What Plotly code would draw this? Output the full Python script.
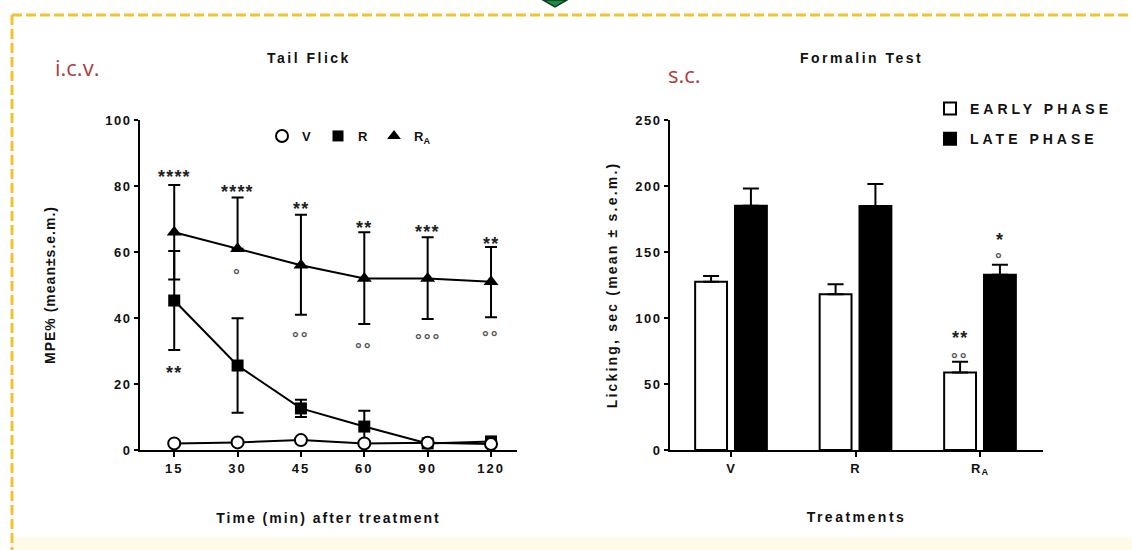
import plotly.graph_objects as go

# ---------------- Tail flick (i.c.v.) ----------------
time_labels = ["15", "30", "45", "60", "90", "120"]
v_mean = [2.0, 2.3, 3.0, 2.0, 2.2, 1.8]
v_sem = [0.5, 0.5, 0.6, 0.4, 0.4, 0.4]
r_mean = [45.3, 25.6, 12.6, 7.1, 2.0, 2.6]
r_sem = [15.0, 14.3, 2.6, 4.8, 0.3, 0.5]
ra_mean = [66.0, 61.0, 56.0, 52.0, 52.0, 51.0]
ra_sem_upper = [14.3, 15.5, 15.3, 14.0, 12.5, 10.5]
ra_sem_lower = [14.3, 0.0, 15.0, 13.8, 12.3, 10.8]

# significance marks (text, y position in MPE% units)
ra_star_text = ["****", "****", "**", "**", "***", "**"]
ra_star_y = [84.3, 79.8, 74.4, 68.8, 67.5, 63.8]
ra_ring_text = ["", "°", "°°", "°°", "°°°", "°°"]
ra_ring_y = [None, 54.5, 35.4, 32.1, 34.6, 35.7]
r_star_text = ["**", "", "", "", "", ""]
r_star_y = [25.0, None, None, None, None, None]

mpe_ticks = [0, 20, 40, 60, 80, 100]

# ---------------- Formalin test (s.c.) ----------------
treatments = ["V", "R", "R<sub>A</sub>"]
early_mean = [127.5, 117.9, 58.8]
early_sem = [4.3, 7.6, 8.1]
late_mean = [185.1, 184.8, 132.8]
late_sem = [13.1, 16.7, 7.6]

early_star_text = ["", "", "**"]
early_star_y = [None, None, 89.0]
early_ring_text = ["", "", "°°"]
early_ring_y = [None, None, 72.5]
late_star_text = ["", "", "*"]
late_star_y = [None, None, 163.0]
late_ring_text = ["", "", "°"]
late_ring_y = [None, None, 148.0]

licking_ticks = [0, 50, 100, 150, 200, 250]

W, H = 1132, 550
FONT = "Liberation Sans, Arial, sans-serif"
BARGAP = 0.36
BARGROUPGAP = 0.2


def spaced(text, px):
    return f'<span style="letter-spacing:{px}px">{text}</span>'


def px_x(p):
    return p / W


def px_y(p):
    return 1 - p / H


fig = go.Figure()

# line traces (drawn R_A first so the vehicle circles sit on top)
fig.add_trace(go.Scatter(
    x=time_labels, y=ra_mean, mode="lines+markers", name="R_A",
    line=dict(color="black", width=2),
    marker=dict(symbol="triangle-up", size=13, color="black"),
    error_y=dict(type="data", symmetric=False, array=ra_sem_upper,
                 arrayminus=ra_sem_lower, color="black", thickness=2, width=6),
    xaxis="x", yaxis="y", showlegend=False))
fig.add_trace(go.Scatter(
    x=time_labels, y=r_mean, mode="lines+markers", name="R",
    line=dict(color="black", width=2),
    marker=dict(symbol="square", size=12, color="black"),
    error_y=dict(type="data", array=r_sem, color="black", thickness=2, width=6),
    xaxis="x", yaxis="y", showlegend=False))
fig.add_trace(go.Scatter(
    x=time_labels, y=v_mean, mode="lines+markers", name="V",
    line=dict(color="black", width=2),
    marker=dict(symbol="circle", size=12, color="white",
                line=dict(color="black", width=2)),
    error_y=dict(type="data", array=v_sem, color="black", thickness=2, width=6),
    xaxis="x", yaxis="y", showlegend=False))

# marker-only legend entries for the line panel
legend_entries = [
    (spaced("V", 2), dict(symbol="circle", size=12, color="white", line=dict(color="black", width=2))),
    (spaced("R", 2), dict(symbol="square", size=11, color="black")),
    ("R<sub>A</sub>", dict(symbol="triangle-up", size=12, color="black")),
]
for rank, (label, mk) in enumerate(legend_entries):
    fig.add_trace(go.Scatter(
        x=[None], y=[None], mode="markers", name=label, marker=mk,
        xaxis="x", yaxis="y", legend="legend", legendrank=rank + 1, showlegend=True))

# bar traces
fig.add_trace(go.Bar(
    x=treatments, y=early_mean, name=spaced("EARLY PHASE", 4),
    marker=dict(color="white", line=dict(color="black", width=2)),
    error_y=dict(type="data", symmetric=False, array=early_sem,
                 arrayminus=[0] * len(early_sem), color="black", thickness=2, width=8),
    xaxis="x2", yaxis="y2", legend="legend2", legendgroup="early"))
fig.add_trace(go.Bar(
    x=treatments, y=late_mean, name=spaced("LATE PHASE", 4),
    marker=dict(color="black", line=dict(color="black", width=2)),
    error_y=dict(type="data", symmetric=False, array=late_sem,
                 arrayminus=[0] * len(late_sem), color="black", thickness=2, width=8),
    xaxis="x2", yaxis="y2", legend="legend2", legendgroup="late"))

tick_font = dict(family=FONT, size=13, color="#111", weight="bold")
title_font = dict(family=FONT, size=14, color="#111", weight="bold")
axis_common = dict(showline=True, linecolor="black", linewidth=2, ticks="outside",
                   tickcolor="black", tickwidth=2, showgrid=False, zeroline=False,
                   tickfont=tick_font, automargin=False, fixedrange=True)

fig.update_layout(
    width=W, height=H,
    margin=dict(l=0, r=0, t=0, b=0),
    paper_bgcolor="white", plot_bgcolor="white",
    bargap=BARGAP, bargroupgap=BARGROUPGAP, barmode="group",
    xaxis=dict(domain=[px_x(140), px_x(517)], anchor="y", type="category",
               categoryorder="array", categoryarray=time_labels,
               range=[-0.54, 5.41], ticklen=5,
               tickvals=time_labels, ticktext=[spaced(t, 2) for t in time_labels],
               title=dict(text=spaced("Time (min) after treatment", 2),
                          font=title_font, standoff=39),
               **axis_common),
    yaxis=dict(domain=[px_y(450), px_y(120)], anchor="x", range=[0, 100],
               ticklen=4, tickvals=mpe_ticks,
               ticktext=[spaced(str(t), 1.5) for t in mpe_ticks],
               title=dict(text=spaced("MPE% (mean±s.e.m.)", 1),
                          font=title_font, standoff=46),
               **axis_common),
    xaxis2=dict(domain=[px_x(670), px_x(1043)], anchor="y2", type="category",
                categoryorder="array", categoryarray=treatments,
                range=[-0.49, 2.506], ticklen=5,
                tickvals=treatments, ticktext=[spaced(t, 1) for t in treatments],
                title=dict(text=spaced("Treatments", 2.5), font=title_font, standoff=36),
                **axis_common),
    yaxis2=dict(domain=[px_y(450), px_y(120)], anchor="x2", range=[0, 250],
                ticklen=4, tickvals=licking_ticks,
                ticktext=[spaced(str(t), 1.5) for t in licking_ticks],
                title=dict(text=spaced("Licking, sec (mean ± s.e.m.)", 2.2),
                           font=title_font, standoff=14),
                **axis_common),
    legend=dict(orientation="h", x=px_x(262), y=px_y(136), xanchor="left",
                yanchor="middle", bgcolor="rgba(0,0,0,0)", entrywidth=11,
                font=dict(family=FONT, size=13, color="#111", weight="bold")),
    legend2=dict(orientation="v", x=px_x(930), y=px_y(93), xanchor="left",
                 yanchor="top", bgcolor="rgba(0,0,0,0)", tracegroupgap=9,
                 font=dict(family=FONT, size=14, color="#111", weight="bold")),
    showlegend=True,
)

annotations = []


def mark(xref, yref, x, y, text, size, color, yshift, spacing):
    annotations.append(dict(
        xref=xref, yref=yref, x=x, y=y, text=spaced(text, spacing), showarrow=False,
        xanchor="center", yanchor="middle", yshift=yshift,
        font=dict(family=FONT, size=size, color=color, weight="bold")))


STAR = dict(size=18, color="#222", yshift=-5, spacing=1.2)
RING = dict(size=17, color="#555", yshift=-5, spacing=2)

# category positions are given by index so numeric-looking labels stay categorical
for i, (t, y) in enumerate(zip(ra_star_text, ra_star_y)):
    if t:
        mark("x", "y", i, y, t, **STAR)
for i, (t, y) in enumerate(zip(ra_ring_text, ra_ring_y)):
    if t:
        mark("x", "y", i, y, t, **RING)
for i, (t, y) in enumerate(zip(r_star_text, r_star_y)):
    if t:
        mark("x", "y", i, y, t, **STAR)

slot = (1 - BARGAP) / 2
for i, (t, y) in enumerate(zip(early_star_text, early_star_y)):
    if t:
        mark("x2", "y2", i - slot / 2, y, t, **STAR)
for i, (t, y) in enumerate(zip(early_ring_text, early_ring_y)):
    if t:
        mark("x2", "y2", i - slot / 2, y, t, **RING)
for i, (t, y) in enumerate(zip(late_star_text, late_star_y)):
    if t:
        mark("x2", "y2", i + slot / 2, y, t, **STAR)
for i, (t, y) in enumerate(zip(late_ring_text, late_ring_y)):
    if t:
        mark("x2", "y2", i + slot / 2, y, t, **RING)

# panel titles and route labels
annotations += [
    dict(xref="paper", yref="paper", x=px_x(309), y=px_y(58), text=spaced("Tail Flick", 2.5),
         showarrow=False, xanchor="center", yanchor="middle",
         font=dict(family=FONT, size=14, color="#111", weight="bold")),
    dict(xref="paper", yref="paper", x=px_x(861), y=px_y(58), text=spaced("Formalin Test", 2.5),
         showarrow=False, xanchor="center", yanchor="middle",
         font=dict(family=FONT, size=14, color="#111", weight="bold")),
    dict(xref="paper", yref="paper", x=px_x(53), y=px_y(67), text="i.c.v.",
         showarrow=False, xanchor="left", yanchor="middle",
         font=dict(family="Open Sans, sans-serif", size=22, color="#B23A3E")),
    dict(xref="paper", yref="paper", x=px_x(666), y=px_y(74), text="s.c.",
         showarrow=False, xanchor="left", yanchor="middle",
         font=dict(family="Open Sans, sans-serif", size=22, color="#B23A3E")),
]
fig.update_layout(annotations=annotations)

# dashed frame around the figure, bottom tint and the small green pointer
border = "#F2C230"
fig.update_layout(shapes=[
    dict(type="rect", xref="paper", yref="paper", x0=px_x(12), x1=1, y0=0, y1=px_y(537),
         fillcolor="#FFFBE8", line=dict(width=0), layer="below"),
    dict(type="line", xref="paper", yref="paper", x0=px_x(12), x1=1, y0=px_y(15), y1=px_y(15),
         line=dict(color=border, width=3, dash="10px,4px")),
    dict(type="line", xref="paper", yref="paper", x0=px_x(12), x1=px_x(12), y0=px_y(15), y1=0,
         line=dict(color=border, width=3, dash="10px,4px")),
    dict(type="path", xref="paper", yref="paper",
         path=f"M {px_x(543)},{px_y(0)} L {px_x(567)},{px_y(0)} L {px_x(555)},{px_y(7)} Z",
         fillcolor="#1E8A45", line=dict(color="#0E3B1E", width=1.5)),
])

fig.write_html("out.html")
